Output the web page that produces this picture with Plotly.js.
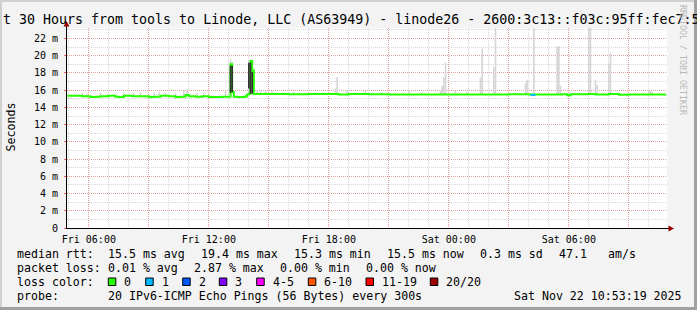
<!DOCTYPE html>
<html><head><meta charset="utf-8">
<script src="https://cdn.plot.ly/plotly-3.0.1.min.js"></script>
<style>html,body{margin:0;padding:0;background:#f3f3f3;overflow:hidden}</style>
</head><body><div id="chart" style="width:697px;height:310px"></div>
<script>
// ---- data ----
const xRange = ['2025-11-21 04:54:30', '2025-11-22 10:54:30'];
const tickVals = ['2025-11-21 06:00','2025-11-21 09:00','2025-11-21 12:00','2025-11-21 15:00','2025-11-21 18:00',
                  '2025-11-21 21:00','2025-11-22 00:00','2025-11-22 03:00','2025-11-22 06:00','2025-11-22 09:00'];
const tickText = ['Fri 06:00','','Fri 12:00','','Fri 18:00','','Sat 00:00','','Sat 06:00',''];
const yTickVals = [0,2,4,6,8,10,12,14,16,18,20,22];
const yTickText = ['0','2 m','4 m','6 m','8 m','10 m','12 m','14 m','16 m','18 m','20 m','22 m'];

const medianTimes = [
 '2025-11-21 04:55','2025-11-21 05:20','2025-11-21 05:40','2025-11-21 05:55','2025-11-21 06:05','2025-11-21 06:20',
 '2025-11-21 06:35','2025-11-21 07:00','2025-11-21 07:20','2025-11-21 07:30','2025-11-21 07:45','2025-11-21 08:10',
 '2025-11-21 08:35','2025-11-21 09:00','2025-11-21 09:15','2025-11-21 09:35','2025-11-21 10:00','2025-11-21 10:20',
 '2025-11-21 10:35','2025-11-21 10:50','2025-11-21 11:00','2025-11-21 11:20','2025-11-21 11:40','2025-11-21 12:00',
 '2025-11-21 12:20','2025-11-21 12:40','2025-11-21 13:00','2025-11-21 13:05','2025-11-21 13:10','2025-11-21 13:15',
 '2025-11-21 13:25','2025-11-21 13:40','2025-11-21 13:50','2025-11-21 13:55','2025-11-21 14:00','2025-11-21 14:05',
 '2025-11-21 14:10','2025-11-21 14:15','2025-11-21 16:00','2025-11-21 17:00','2025-11-21 18:30','2025-11-21 19:00',
 '2025-11-21 20:00','2025-11-21 21:00','2025-11-21 23:00','2025-11-22 01:00','2025-11-22 03:00','2025-11-22 04:00',
 '2025-11-22 04:20','2025-11-22 05:40','2025-11-22 05:55','2025-11-22 06:05','2025-11-22 07:00','2025-11-22 07:20',
 '2025-11-22 08:00','2025-11-22 08:30','2025-11-22 09:00','2025-11-22 10:50'];
const medianMs = [
 15.35,15.35,15.3,15.3,15.22,15.25,
 15.3,15.35,15.25,15.22,15.35,15.3,
 15.3,15.22,15.25,15.35,15.3,15.22,
 15.25,15.45,15.3,15.25,15.3,15.22,
 15.2,15.25,15.25,19.0,15.8,15.25,
 15.2,15.22,15.3,15.5,15.6,19.4,
 18.3,15.55,15.52,15.55,15.5,15.55,
 15.52,15.5,15.5,15.5,15.52,15.5,
 15.5,15.52,15.42,15.52,15.55,15.5,
 15.55,15.47,15.5,15.52];

const smokeTimes = [
 '2025-11-21 05:40','2025-11-21 05:55','2025-11-21 06:35','2025-11-21 06:55','2025-11-21 07:45','2025-11-21 08:15',
 '2025-11-21 08:35','2025-11-21 09:15','2025-11-21 09:30','2025-11-21 09:50','2025-11-21 10:20','2025-11-21 10:45',
 '2025-11-21 10:55','2025-11-21 11:25','2025-11-21 11:45','2025-11-21 12:50','2025-11-21 13:05','2025-11-21 13:10',
 '2025-11-21 14:00','2025-11-21 14:05','2025-11-21 14:10','2025-11-21 14:25','2025-11-21 14:35','2025-11-21 14:50',
 '2025-11-21 15:10','2025-11-21 16:15','2025-11-21 17:00','2025-11-21 18:20','2025-11-21 18:25','2025-11-21 18:55',
 '2025-11-21 19:50','2025-11-21 20:40','2025-11-21 22:00','2025-11-21 22:40','2025-11-21 23:35','2025-11-21 23:40',
 '2025-11-21 23:45','2025-11-21 23:50','2025-11-22 00:20','2025-11-22 00:55','2025-11-22 01:35','2025-11-22 01:40',
 '2025-11-22 02:15','2025-11-22 02:20','2025-11-22 03:50','2025-11-22 03:55','2025-11-22 04:15','2025-11-22 05:25',
 '2025-11-22 05:30','2025-11-22 05:35','2025-11-22 07:00','2025-11-22 07:05','2025-11-22 07:20','2025-11-22 07:25',
 '2025-11-22 08:00','2025-11-22 08:05','2025-11-22 10:00','2025-11-22 10:05','2025-11-22 10:10'];
const smokeLow = [
 15.35,15.35,15.3,15.3,15.35,15.3,
 15.3,15.3,15.3,15.3,15.3,15.3,
 15.3,15.3,15.3,15.3,15.5,15.5,
 15.6,15.6,15.6,15.55,15.55,15.55,
 15.55,15.55,15.55,15.55,15.55,15.55,
 15.55,15.55,15.5,15.5,15.5,15.5,
 15.5,15.5,15.5,15.5,15.5,15.5,
 15.5,15.5,15.5,15.5,15.5,15.5,
 15.5,15.5,15.5,15.5,15.5,15.5,
 15.5,15.5,15.5,15.5,15.5];
const smokeHigh = [
 15.65,15.6,15.7,15.6,15.7,15.65,
 15.7,15.7,15.75,15.7,15.7,15.95,
 16.1,15.7,15.7,15.95,19.6,19.3,
 19.5,19.6,18.8,16.0,15.9,16.0,
 15.9,15.8,15.8,16.2,17.5,16.0,
 15.9,15.8,16.0,15.8,16.0,16.5,
 17.5,19.2,15.9,15.8,17.45,20.8,
 18.66,24.0,16.8,17.2,24.0,21.1,
 21.1,16.5,24.0,24.0,17.2,16.6,
 19.1,20.3,15.9,15.9,15.8];

const denseTimes = ['2025-11-21 13:05','2025-11-21 13:10','2025-11-21 14:00','2025-11-21 14:05','2025-11-21 14:10'];
const denseLow   = [15.7, 15.8, 16.2, 15.6, 15.6];
const denseHigh  = [18.85, 18.85, 19.2, 19.2, 18.1];

const lossTimes = ['2025-11-22 04:05','2025-11-22 04:20'];
const lossMs    = [15.45, 15.45];

const lossLabels = ['0','1','2','3','4-5','6-10','11-19','20/20'];
const lossColors = ['#26ff00','#00b8ff','#0059ff','#7e00ff','#ff00ff','#ff5500','#ff0000','#a10000'];

// ---- layout helpers (pixel -> paper) ----
const L = 67, T = 28, W = 600, H = 200;
const px = x => (x - L) / W;
const py = y => (T + H - y) / H;
const MONO = 'DejaVu Sans Mono';
const yRange = [0, 23.22];

const traces = [
  { type:'bar', x: smokeTimes, base: smokeLow, y: smokeHigh.map((h,i)=>h-smokeLow[i]),
    width: 300000, marker:{color:'#d6d6d6', line:{width:0}}, hoverinfo:'skip' },
  { type:'scatter', mode:'lines', x: medianTimes, y: medianMs,
    line:{color:'#26ff00', width:2, shape:'hv'}, hoverinfo:'skip' },
  { type:'bar', x: denseTimes, base: denseLow, y: denseHigh.map((h,i)=>h-denseLow[i]),
    xaxis:'x2', yaxis:'y2',
    width: 300000, marker:{color:'#333333', line:{width:0}}, hoverinfo:'skip' },
  { type:'scatter', mode:'lines', x: lossTimes, y: lossMs, xaxis:'x2', yaxis:'y2',
    line:{color:lossColors[1], width:2, shape:'hv'}, hoverinfo:'skip' }
];

const ann = [];
function txt(x, y, s, opts) {
  ann.push(Object.assign({xref:'paper', yref:'paper', x:px(x), y:py(y), text:s, showarrow:false,
    xanchor:'left', yanchor:'middle', borderpad:0, font:{family:MONO, size:11.6, color:'#000'}}, opts||{}));
}
// title
txt(2, 19, 't 30 Hours from tools to Linode, LLC (AS63949) - linode26 - 2600:3c13::f03c:95ff:fec7:5',
    {font:{family:MONO, size:13.3, color:'#000'}});
// y title
txt(10.5, 127, 'Seconds', {xanchor:'center', textangle:-90});
// watermark
txt(683, 60, 'RRDTOOL / TOBI OETIKER', {xanchor:'center', textangle:90, font:{family:MONO, size:8.3, color:'#b8b8b8'}});
// legend rows
const r1 = 254, r2 = 268.3, r3 = 281.7, r4 = 296;
txt(16, r1, 'median rtt:'); txt(107, r1, '15.5 ms avg'); txt(200, r1, '19.4 ms max'); txt(293, r1, '15.3 ms min');
txt(386, r1, '15.5 ms now'); txt(479, r1, '0.3 ms sd'); txt(558, r1, '47.1'); txt(607, r1, 'am/s');
txt(16, r2, 'packet loss:'); txt(107, r2, '0.01 % avg'); txt(193, r2, '2.87 % max'); txt(279, r2, '0.00 % min');
txt(365, r2, '0.00 % now');
txt(16, r3, 'loss color:');
const boxX = [108.3, 145.7, 182.7, 219.3, 256.7, 308.3, 366, 430.3];
const shapes = [];
lossLabels.forEach((lab, i) => {
  shapes.push({type:'rect', xref:'paper', yref:'paper', x0:px(boxX[i]), x1:px(boxX[i]+7.5),
    y0:py(285.5), y1:py(278), fillcolor:lossColors[i], line:{color:'#000', width:1}});
  txt(boxX[i]+15, r3, lab);
});
txt(16, r4, 'probe:'); txt(107, r4, '20 IPv6-ICMP Echo Pings (56 Bytes) every 300s');
txt(513, r4, 'Sat Nov 22 10:53:19 2025');

// axis extensions and arrows
shapes.push({type:'line', xref:'paper', yref:'paper', x0:px(667), x1:px(670), y0:py(228.5), y1:py(228.5), line:{color:'#000', width:1}});
shapes.push({type:'path', xref:'paper', yref:'paper',
  path:`M ${px(668.5)} ${py(225.5)} L ${px(674)} ${py(228.5)} L ${px(668.5)} ${py(231.5)} Z`, fillcolor:'#9b0000', line:{width:0}});
shapes.push({type:'line', xref:'paper', yref:'paper', x0:px(66.5), x1:px(66.5), y0:py(28), y1:py(25), line:{color:'#000', width:1}});
shapes.push({type:'path', xref:'paper', yref:'paper',
  path:`M ${px(63.5)} ${py(26.5)} L ${px(66.5)} ${py(21)} L ${px(69.5)} ${py(26.5)} Z`, fillcolor:'#9b0000', line:{width:0}});
// frame
shapes.push({type:'rect', xref:'paper', yref:'paper', x0:px(0), x1:px(697), y0:py(2), y1:py(0), fillcolor:'#d0d0d0', line:{width:0}});
shapes.push({type:'rect', xref:'paper', yref:'paper', x0:px(0), x1:px(2), y0:py(310), y1:py(0), fillcolor:'#d0d0d0', line:{width:0}});
shapes.push({type:'rect', xref:'paper', yref:'paper', x0:px(694), x1:px(697), y0:py(310), y1:py(0), fillcolor:'#a0a0a0', line:{width:0}});
shapes.push({type:'rect', xref:'paper', yref:'paper', x0:px(0), x1:px(697), y0:py(310), y1:py(307), fillcolor:'#a0a0a0', line:{width:0}});

const majorGrid = 'rgba(255,40,40,0.32)';
const minorGrid = 'rgba(120,120,120,0.3)';
const layout = {
  width:697, height:310, margin:{l:L, r:697-L-W, t:T, b:310-T-H, pad:0},
  paper_bgcolor:'#f3f3f3', plot_bgcolor:'#ffffff', showlegend:false, barmode:'overlay',
  font:{family:MONO, size:10, color:'#000'},
  xaxis:{type:'date', range:xRange, tickmode:'array', tickvals:tickVals, ticktext:tickText,
    showgrid:true, gridcolor:majorGrid, griddash:'1px,1px', gridwidth:1,
    showline:true, linecolor:'#000', linewidth:1, ticks:'', ticklabelstandoff:2,
    tickfont:{family:MONO, size:10, color:'#000'}, zeroline:false, fixedrange:true,
    minor:{tickmode:'linear', tick0:'2025-11-21 00:00', dtick:3600000, showgrid:true,
      gridcolor:minorGrid, griddash:'1px,1px', gridwidth:1, ticks:''}},
  yaxis:{range:yRange, tickmode:'array', tickvals:yTickVals, ticktext:yTickText,
    showgrid:true, gridcolor:majorGrid, griddash:'1px,1px', gridwidth:1,
    showline:true, linecolor:'#000', linewidth:1, ticks:'outside', ticklen:2, tickcolor:'#ff6060',
    ticklabelstandoff:4, tickfont:{family:MONO, size:10, color:'#000'}, zeroline:false, fixedrange:true,
    minor:{tickmode:'linear', tick0:0, dtick:1, showgrid:true,
      gridcolor:minorGrid, griddash:'1px,1px', gridwidth:1, ticks:''}},
  xaxis2:{type:'date', range:xRange, overlaying:'x', visible:false, fixedrange:true},
  yaxis2:{range:yRange, overlaying:'y', visible:false, fixedrange:true},
  annotations: ann, shapes: shapes
};
Plotly.newPlot('chart', traces, layout, {staticPlot:true, displayModeBar:false});
</script></body></html>
